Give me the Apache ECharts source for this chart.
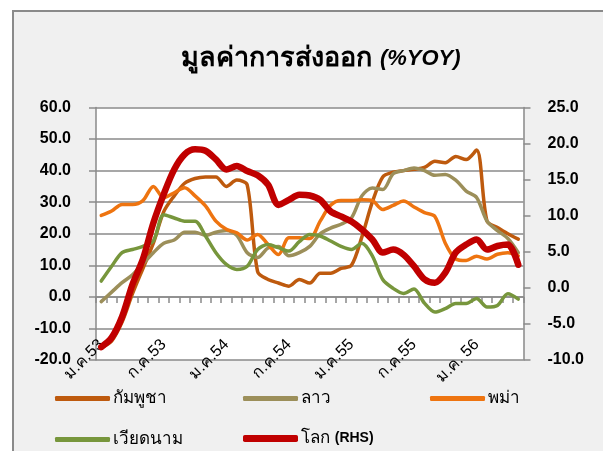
<!DOCTYPE html>
<html>
<head>
<meta charset="utf-8">
<script src="https://cdn.jsdelivr.net/npm/echarts@6/dist/echarts.min.js"></script>
<style>
  html, body { margin: 0; padding: 0; background: #fff; }
  #chart { width: 603px; height: 451px; }
</style>
</head>
<body>
<div id="chart"></div>
<script>
// เดือน ม.ค.53 - พ.ค.56
const monthNames = ['ม.ค.', 'ก.พ.', 'มี.ค.', 'เม.ย.', 'พ.ค.', 'มิ.ย.', 'ก.ค.', 'ส.ค.', 'ก.ย.', 'ต.ค.', 'พ.ย.', 'ธ.ค.'];
const years = [53, 54, 55, 56];
const nMonths = 41;
const categories = [];
for (let i = 0; i < nMonths; i++) {
  const m = monthNames[i % 12];
  const y = years[Math.floor(i / 12)];
  categories.push(y === 56 ? m + ' ' + y : m + y);
}

const cambodia = [-16, -14, -8, 1, 9, 17, 27, 32, 36, 37.5, 38, 38, 35, 37, 35.5, 8, 5.5, 4.4, 3.4, 5.5, 4.4,
  7.5, 7.5, 9, 10, 19, 30, 38, 39.5, 40, 40.4, 41, 43, 42.5, 44.5, 43.5, 46.5, 24, 22, 20, 18.3];
const laos = [-1.5, 1.5, 4.5, 7, 10.5, 14, 17, 18, 20.5, 20.5, 19.5, 20.5, 21, 19.5, 14, 12.5, 15.5, 16, 13, 14, 16,
  20, 21.8, 23, 25, 32, 34.5, 34, 39, 40, 40.8, 40, 38.5, 38.8, 37, 33.5, 31.5, 24, 21, 18.5, 14];
const myanmar = [25.8, 27.2, 29.3, 29.3, 30.5, 35, 31.4, 33, 34.6, 32, 28.8, 24, 21.4, 20.3, 18, 19.8, 16.6, 13.4, 18.7, 18.7, 18.5,
  24, 29, 30.5, 30.5, 30.8, 30.5, 27.7, 29, 30.4, 28.5, 26.7, 25.5, 17, 12, 11.5, 12.9, 12, 13.5, 14, 13];
const vietnam = [5, 9.7, 14, 15, 16, 17.7, 26, 25, 24, 24, 19.3, 14, 10.3, 8.7, 9.7, 15, 16.6, 15.6, 14.5, 17.5, 19.8,
  19.3, 17.7, 16, 15, 17, 13, 5.5, 2.7, 1.1, 2.5, -2, -4.8, -3.7, -2.1, -2.1, -0.5, -3.2, -2.7, 1, -0.7];
const world = [-8.2, -6.9, -4, 0.5, 4, 9, 13, 16.4, 18.5, 19.2, 19, 17.8, 16.4, 16.9, 16.2, 15.6, 14.3, 11.5, 12.2, 12.9, 12.8,
  12.2, 10.6, 9.9, 9.2, 8.1, 6.7, 4.9, 5.3, 4.6, 3, 1.2, 0.7, 2.1, 4.9, 6, 6.7, 5.3, 5.8, 6, 3.2];

const seriesNames = ['กัมพูชา', 'ลาว', 'พม่า', 'เวียดนาม', 'โลก (RHS)'];
const seriesColors = ['#BE5A0E', '#9C8F5A', '#EE7410', '#77963C', '#C00000'];
const seriesData = [cambodia, laos, myanmar, vietnam, world];

const FONT = '"Liberation Sans", Arial, "Noto Sans", sans-serif';
const chart = echarts.init(document.getElementById('chart'), null, { renderer: 'canvas' });

// ตำแหน่ง legend แต่ละตัว (2 แถว)
const legendPos = [[55, 390], [243, 390], [430, 390], [55, 431], [243, 430]];
const legends = seriesNames.map((name, i) => ({
  data: [name],
  left: legendPos[i][0],
  top: legendPos[i][1],
  icon: 'roundRect',
  itemWidth: 55,
  itemHeight: i === 4 ? 7 : 5,
  itemGap: 0,
  padding: 0,
  selectedMode: false,
  formatter: n => n === 'โลก (RHS)' ? 'โลก {b|(RHS)}' : n,
  textStyle: {
    fontFamily: FONT, fontSize: 17, color: '#000', padding: [0, 0, 0, -2],
    rich: { b: { fontFamily: FONT, fontSize: 14, fontWeight: 'bold', color: '#000' } }
  }
}));

chart.setOption({
  animation: false,
  backgroundColor: '#fff',
  graphic: [{
    type: 'rect', z: -10, silent: true,
    shape: { x: 13, y: 11, width: 600, height: 450 },
    style: { fill: '#f0f0f0', stroke: '#8a8a8a', lineWidth: 2 }
  }],
  title: {
    text: '{a|มูลค่าการส่งออก }{b|(%YOY)}',
    left: 316, top: 40, textAlign: 'center',
    textStyle: {
      rich: {
        a: { fontFamily: FONT, fontSize: 27, fontWeight: 'bold', color: '#000' },
        b: { fontFamily: FONT, fontSize: 22, fontWeight: 'bold', fontStyle: 'italic', color: '#000' }
      }
    }
  },
  legend: legends,
  grid: {
    left: 96, right: 79.5, top: 107.5, bottom: 91,
    show: true, backgroundColor: '#fff', borderWidth: 0
  },
  xAxis: [{
    type: 'category', data: categories, boundaryGap: true, position: 'bottom',
    axisLine: { show: false, onZero: false },
    axisTick: { show: false },
    axisLabel: {
      interval: 5, rotate: 45, margin: -18,
      fontFamily: FONT, fontSize: 16, color: '#000'
    }
  }, {
    type: 'category', data: categories, boundaryGap: true, position: 'bottom',
    axisLine: { show: true, onZero: true, onZeroAxisIndex: 0, lineStyle: { color: '#8a8a8a', width: 1.5 } },
    axisTick: { show: true, interval: 0, length: 6, lineStyle: { color: '#8a8a8a', width: 1.5 } },
    axisLabel: { show: false }
  }],
  yAxis: [{
    type: 'value', min: -20, max: 60, interval: 10, position: 'left',
    axisLine: { show: true, lineStyle: { color: '#8a8a8a', width: 1.5 } },
    axisTick: { show: true, length: 7, lineStyle: { color: '#8a8a8a', width: 1.5 } },
    splitLine: { show: true, lineStyle: { color: '#8a8a8a', width: 1.5 } },
    axisLabel: {
      margin: 25, formatter: v => v.toFixed(1),
      fontFamily: FONT, fontSize: 16, fontWeight: 'bold', color: '#000'
    }
  }, {
    type: 'value', min: -10, max: 25, interval: 5, position: 'right',
    axisLine: { show: true, lineStyle: { color: '#8a8a8a', width: 1.5 } },
    axisTick: { show: true, length: 7, lineStyle: { color: '#8a8a8a', width: 1.5 } },
    splitLine: { show: false },
    axisLabel: {
      margin: 24, formatter: v => v.toFixed(1),
      fontFamily: FONT, fontSize: 16, fontWeight: 'bold', color: '#000'
    }
  }],
  series: seriesNames.map((name, i) => ({
    name: name,
    type: 'line',
    data: seriesData[i],
    yAxisIndex: i === 4 ? 1 : 0,
    smooth: 0.3,
    symbol: 'none',
    z: i === 4 ? 5 : 3,
    color: seriesColors[i],
    lineStyle: { width: i === 4 ? 6.5 : 3.5, color: seriesColors[i], cap: 'round', join: 'round' }
  }))
});
</script>
</body>
</html>
